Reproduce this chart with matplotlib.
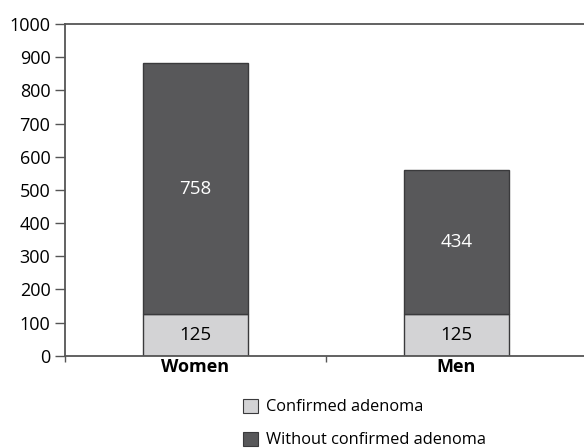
import matplotlib.pyplot as plt
from matplotlib.patches import Patch

categories = ["Women", "Men"]
confirmed = [125, 125]
without_confirmed = [758, 434]
series_labels = ["Confirmed adenoma", "Without confirmed adenoma"]
yticks = [0, 100, 200, 300, 400, 500, 600, 700, 800, 900, 1000]

plt.rcParams['font.family'] = ['Open Sans', 'DejaVu Sans']

light = '#d3d3d5'
dark = '#58585a'
edge = '#3a3a3c'
axis_col = '#555555'

fig = plt.figure(figsize=(5.84, 4.48), dpi=100)
# axes spans pixel x 65..587 and y 24..356
ax = fig.add_axes([65 / 584, (448 - 355.7) / 448, (587 - 65) / 584, (355.7 - 24) / 448])

x = list(range(len(categories)))
width = 0.40
ax.bar(x, confirmed, width, color=light, edgecolor=edge, linewidth=1.0, zorder=2)
ax.bar(x, without_confirmed, width, bottom=confirmed, color=dark,
       edgecolor=edge, linewidth=1.0, zorder=2)

for xi, c, w in zip(x, confirmed, without_confirmed):
    ax.text(xi, c / 2, str(c), ha='center', va='center', fontsize=13.5,
            fontweight='medium', color='black')
    ax.text(xi, c + w / 2, str(w), ha='center', va='center', fontsize=13.5,
            fontweight='medium', color='white')

ax.set_xlim(-0.5, 1.5)
ax.set_ylim(0, 1000)
ax.set_yticks(yticks)
ax.tick_params(axis='y', direction='out', length=7, width=1, color=axis_col,
               labelsize=13, pad=3.5)

ax.set_xticks([-0.5, 0.5, 1.5])
ax.set_xticklabels([])
ax.set_xticks(x, minor=True)
ax.set_xticklabels(categories, minor=True, fontsize=13, fontweight='bold')
ax.tick_params(axis='x', which='major', direction='out', length=4, width=1, color=axis_col)
ax.tick_params(axis='x', which='minor', length=0, pad=2)

for side in ['left', 'bottom', 'top']:
    ax.spines[side].set_color(axis_col)
    ax.spines[side].set_linewidth(1.3)
ax.spines['right'].set_visible(False)

handles = [Patch(facecolor=light, edgecolor=edge, linewidth=0.8),
           Patch(facecolor=dark, edgecolor=edge, linewidth=0.8)]
fig.legend(handles, series_labels, loc='upper left',
           bbox_to_anchor=(236 / 584, 1 - 392 / 448), frameon=False,
           fontsize=11.8, handlelength=0.95, handleheight=0.95,
           handletextpad=0.5, labelspacing=1.0, borderaxespad=0)

fig.savefig('out.png', dpi=100)
